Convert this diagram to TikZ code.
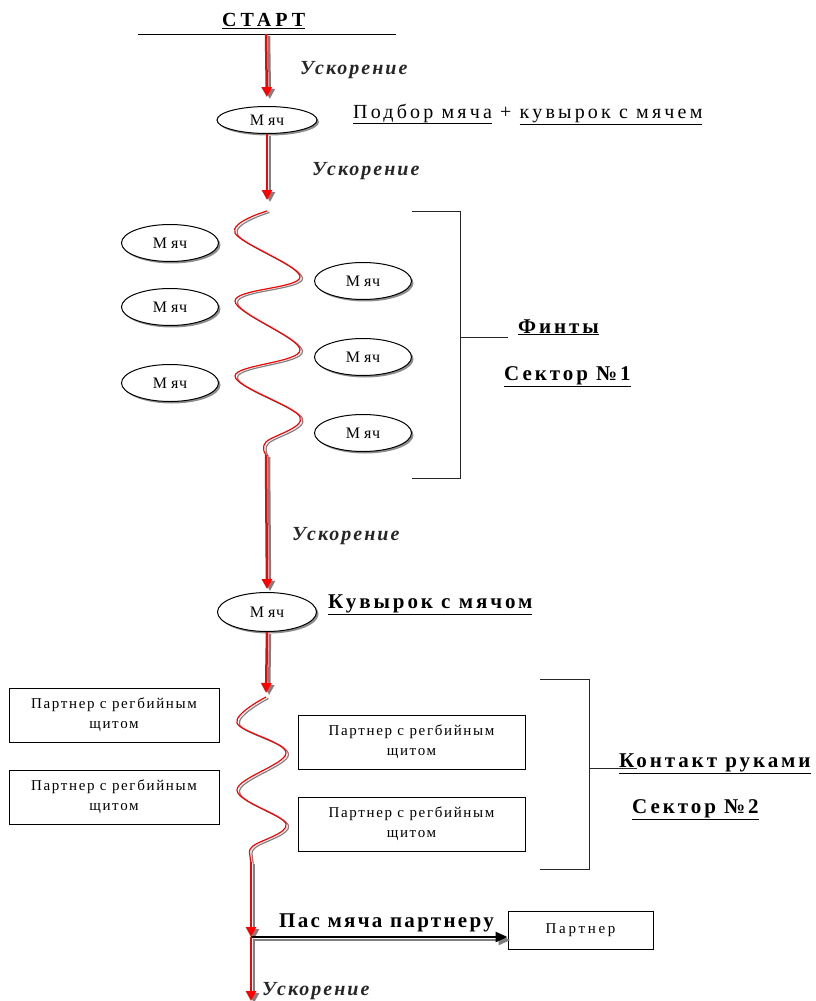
\documentclass[tikz,border=0pt]{standalone}
\usepackage{fontspec}
\setmainfont{Liberation Serif}
\usetikzlibrary{arrows.meta,positioning,shapes.geometric,shadows}
\newcommand{\ballname}{М\kern4ptяч}

\begin{document}
\begin{tikzpicture}[x=1pt, y=-1pt,
  ball/.style={draw, line width=1pt, ellipse, fill=white, minimum width=97pt, minimum height=37pt,
               inner sep=0pt, font=\fontsize{16}{18}\selectfont\addfontfeature{LetterSpace=4},
               drop shadow={shadow xshift=2pt, shadow yshift=-2pt, fill=gray, opacity=0.9}},
  shield/.style={draw, line width=0.9pt, fill=white, minimum width=210pt, minimum height=54pt,
                 align=center, inner sep=0pt,
                 font=\fontsize{15}{20}\selectfont\addfontfeature{LetterSpace=11},
                 drop shadow={shadow xshift=1pt, shadow yshift=-1pt, fill=black!70, opacity=1}},
  lbl/.style={anchor=base west, inner sep=0pt,
              font=\fontsize{21}{23}\selectfont\bfseries\addfontfeature{LetterSpace=14}},
  speed/.style={anchor=base west, inner sep=0pt, text=black!85,
                font=\fontsize{20}{22}\selectfont\bfseries\itshape\addfontfeature{LetterSpace=10}},
  run/.style={draw=red, line width=2.5pt, -{Triangle[width=10pt,length=10pt]}},
  runshade/.style={draw=gray, line width=2.5pt, -{Triangle[width=10pt,length=10pt]},
                   transform canvas={xshift=3pt, yshift=-2pt}},
  pass/.style={draw=black, line width=2.5pt, -{Triangle[width=10pt,length=12pt]}},
  passshade/.style={draw=gray, line width=2.5pt, -{Triangle[width=10pt,length=12pt]},
                    transform canvas={xshift=3pt, yshift=-3pt}},
  wave/.style={draw=red, line width=1.2pt},
  waveshade/.style={draw=gray, line width=1.2pt, transform canvas={xshift=2.5pt, yshift=-1.5pt}},
  bracket/.style={draw=black!85, line width=1pt}
]
\useasboundingbox (0,0) rectangle (816,1001);

% start line
\coordinate (startL) at (138,34);
\coordinate (startR) at (396,34);
\coordinate (s0) at (266,34);
\draw[line width=0.9pt] (startL) -- (startR);
\node[lbl, font=\fontsize{20}{22}\selectfont\bfseries\addfontfeature{LetterSpace=20}]
      (start) at (222,27) {\underline{СТАРТ}};

% first ball
\node[ball, minimum width=100pt, minimum height=27pt] (b0) at (267,120) {\ballname};
\node[speed] (sp1) at (300,74) {Ускорение};
\node[anchor=base west, inner sep=0pt, font=\fontsize{20}{22}\selectfont\addfontfeature{LetterSpace=16}]
      (pick) at (353,118) {\underline{Подбор мяча} + \underline{кувырок с мячем}};
\node[speed] (sp2) at (312,175) {Ускорение};

\draw[runshade, shorten >=9pt] (s0) -- (b0.north);
\draw[run, shorten >=9pt] (s0) -- (b0.north);

% sector 1: feints
\coordinate (w1top) at (267,211);
\coordinate (w1end) at (266,455);
\draw[runshade, shorten >=11pt] (b0.south) -- (w1top);
\draw[run, shorten >=11pt] (b0.south) -- (w1top);

\node[ball] (l1) at (170,243) {\ballname};
\node[ball] (l2) at (170,307) {\ballname};
\node[ball] (l3) at (170,383) {\ballname};
\node[ball] (r1) at (363,281) {\ballname};
\node[ball] (r2) at (363,357) {\ballname};
\node[ball] (r3) at (363,433) {\ballname};

\draw[waveshade] plot[smooth, tension=0.6] coordinates {(w1top) (235,233) (300,277) (235,301)
      (300,350) (235,376) (300,417) (266,442) (w1end)};
\draw[wave] plot[smooth, tension=0.6] coordinates {(w1top) (235,233) (300,277) (235,301)
      (300,350) (235,376) (300,417) (266,442) (w1end)};

\draw[bracket] (412,211) -- (460,211) -- (460,478) -- (412,478);
\draw[bracket] (460,337) -- (508,337);
\node[lbl] (feint) at (518,333) {\underline{Финты}};
\node[lbl] (sec1) at (504,380) {\underline{Сектор №1}};

% roll
\node[speed] (sp3) at (292,540) {Ускорение};
\node[ball, minimum width=99pt, minimum height=39pt] (b1) at (267,612) {\ballname};
\node[lbl] (roll) at (328,608) {\underline{Кувырок с мячом}};
\draw[runshade, shorten >=3pt] (w1end) -- (b1.north);
\draw[run, shorten >=3pt] (w1end) -- (b1.north);

% sector 2: hand contact
\coordinate (w2top) at (266,697);
\coordinate (w2end) at (251,862);
\draw[runshade, shorten >=4pt] (b1.south) -- (w2top);
\draw[run, shorten >=4pt] (b1.south) -- (w2top);

\node[shield] (p1) at (114,715) {Партнер с регбийным\\щитом};
\node[shield] (p2) at (114,797) {Партнер с регбийным\\щитом};
\node[shield, minimum width=227pt] (p3) at (411.5,742) {Партнер с регбийным\\щитом};
\node[shield, minimum width=227pt] (p4) at (411.5,824) {Партнер с регбийным\\щитом};

\draw[waveshade] plot[smooth, tension=0.6] coordinates {(w2top) (237,723) (286,753) (237,790)
      (286,824) (253,846) (250,856) (w2end)};
\draw[wave] plot[smooth, tension=0.6] coordinates {(w2top) (237,723) (286,753) (237,790)
      (286,824) (253,846) (250,856) (w2end)};

\draw[bracket] (540,679) -- (589,679) -- (589,869) -- (540,869);
\draw[bracket] (589,768) -- (637,768);
\node[lbl] (hands) at (619,767) {\underline{Контакт руками}};
\node[lbl] (sec2) at (632,813) {\underline{Сектор №2}};

% pass
\coordinate (pp) at (251,937);
\coordinate (fin) at (251,1001);
\node[draw, line width=0.9pt, fill=white, minimum width=145pt, minimum height=38pt, inner sep=0pt,
      font=\fontsize{15}{17}\selectfont\addfontfeature{LetterSpace=18},
      drop shadow={shadow xshift=1pt, shadow yshift=-1pt, fill=black!70, opacity=1}]
      (mate) at (580.5,930) {Партнер};
\node[lbl, font=\fontsize{21}{23}\selectfont\bfseries\addfontfeature{LetterSpace=11}]
      (passtxt) at (279,927) {Пас мяча партнеру};

\draw[runshade] (w2end) -- (pp);
\draw[run] (w2end) -- (pp);
\draw[passshade] (pp) -- (pp -| mate.west);
\draw[pass] (pp) -- (pp -| mate.west);
\draw[runshade] (pp) -- (fin);
\draw[run] (pp) -- (fin);
\node[speed] (sp4) at (262,995) {Ускорение};
\end{tikzpicture}
\end{document}
